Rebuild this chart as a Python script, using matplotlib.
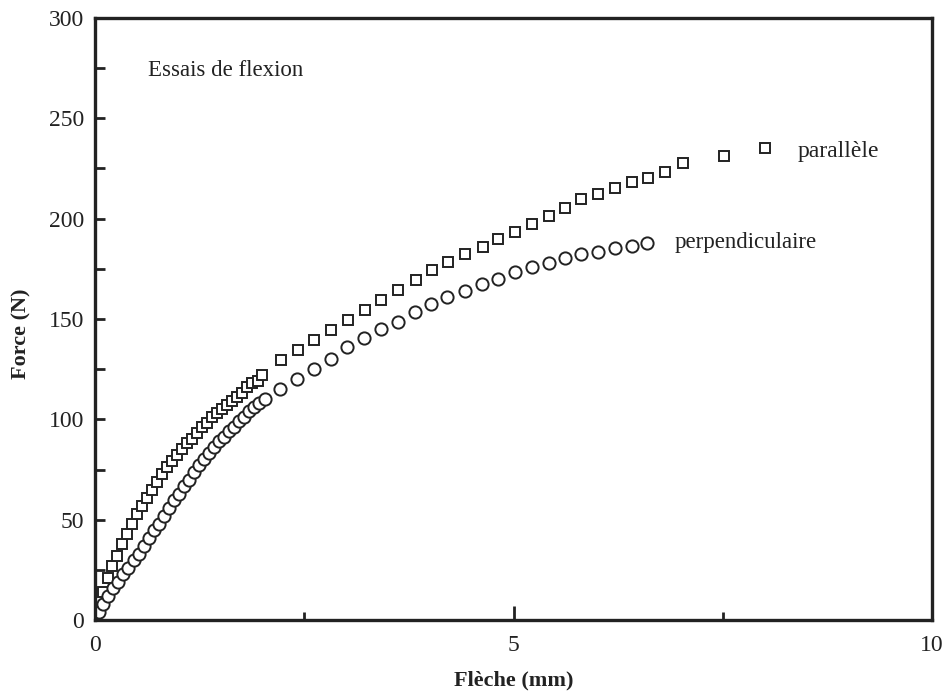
import matplotlib
matplotlib.use("Agg")
import matplotlib.pyplot as plt
from matplotlib.ticker import MultipleLocator

# ---- data ----
par_x = [0.00, 0.05, 0.10, 0.15, 0.20, 0.26, 0.32, 0.38, 0.44, 0.50, 0.56, 0.62,
         0.68, 0.74, 0.80, 0.86, 0.92, 0.98, 1.04, 1.10, 1.16, 1.22, 1.28, 1.34,
         1.40, 1.46, 1.52, 1.58, 1.64, 1.70, 1.76, 1.82, 1.88, 1.95, 2.00,
         2.22, 2.42, 2.62, 2.82, 3.02, 3.22, 3.42, 3.62, 3.83, 4.03, 4.22, 4.42,
         4.63, 4.82, 5.02, 5.22, 5.42, 5.62, 5.81, 6.01, 6.21, 6.41, 6.61, 6.81,
         7.02, 7.51, 8.00]
par_y = [0, 6, 14, 21, 27, 32, 38, 43, 48, 53, 57, 61,
         65, 69, 73, 76, 79, 82, 85, 88, 90, 93, 96, 98,
         101, 103, 105, 107, 109, 111, 113, 116, 118, 119, 122,
         129.5, 134.5, 139.5, 144.5, 149.5, 154.5, 159.4, 164.4, 169.4, 174.4, 178.2, 182.4,
         185.7, 189.7, 193.5, 197.3, 201.4, 205.4, 209.6, 212.3, 215.4, 218.4, 220.4, 223.4,
         227.5, 231.3, 235.0]

perp_x = [0.00, 0.05, 0.10, 0.16, 0.22, 0.28, 0.34, 0.40, 0.46, 0.52, 0.58, 0.64,
          0.70, 0.76, 0.82, 0.88, 0.94, 1.00, 1.06, 1.12, 1.18, 1.24, 1.30, 1.36,
          1.42, 1.48, 1.54, 1.60, 1.66, 1.72, 1.78, 1.84, 1.90, 1.96, 2.03,
          2.21, 2.41, 2.62, 2.82, 3.01, 3.21, 3.42, 3.62, 3.82, 4.02, 4.21, 4.42,
          4.62, 4.81, 5.02, 5.22, 5.42, 5.62, 5.81, 6.01, 6.21, 6.41, 6.60]
perp_y = [0, 4, 8, 12, 16, 19, 23, 26, 30, 33, 37, 41,
          45, 48, 52, 56, 60, 63, 67, 70, 74, 77, 80, 83,
          86, 89, 91, 94, 96, 99, 101, 104, 106, 108, 110,
          115.1, 120.1, 124.9, 130.0, 136.2, 140.4, 145.0, 148.6, 153.3, 157.3, 161.1, 163.9,
          167.3, 169.9, 173.5, 176.0, 178.0, 180.5, 182.4, 183.5, 185.2, 186.5, 187.7]

x_label = "Flèche (mm)"
y_label = "Force (N)"
title_text = "Essais de flexion"
par_label = "parallèle"
perp_label = "perpendiculaire"

# ---- plot ----
plt.rcParams['font.family'] = ['Liberation Serif', 'DejaVu Serif']
ink = '#222222'

fig = plt.figure(figsize=(9.48, 6.98), dpi=100)
ax = fig.add_axes([95/948, 78/698, (932-95)/948, (620-18)/698])

ax.plot(par_x, par_y, linestyle='none', marker='s', markersize=7.8,
        markerfacecolor='white', markeredgecolor=ink, markeredgewidth=1.4)
ax.plot(perp_x, perp_y, linestyle='none', marker='o', markersize=8.8,
        markerfacecolor='white', markeredgecolor=ink, markeredgewidth=1.4)

ax.set_xlim(0, 10)
ax.set_ylim(0, 300)
ax.xaxis.set_major_locator(MultipleLocator(5))
ax.xaxis.set_minor_locator(MultipleLocator(2.5))
ax.yaxis.set_major_locator(MultipleLocator(50))
ax.yaxis.set_minor_locator(MultipleLocator(25))

for s in ax.spines.values():
    s.set_linewidth(2.4)
    s.set_color(ink)

ax.tick_params(axis='both', which='both', direction='in', color=ink,
               labelcolor=ink, labelsize=17, top=False, right=False)
ax.tick_params(axis='x', which='major', length=10, width=2, pad=11)
ax.tick_params(axis='x', which='minor', length=6, width=2)
ax.tick_params(axis='y', which='major', length=7, width=2, pad=8)
ax.tick_params(axis='y', which='minor', length=7, width=2)

ax.set_xlabel(x_label, fontsize=16, fontweight='bold', color=ink)
ax.xaxis.label.set_va('center')
ax.xaxis.set_label_coords(0.5, -0.1)
ax.set_ylabel(y_label, fontsize=16, fontweight='bold', color=ink)
ax.yaxis.label.set_va('center')
ax.yaxis.set_label_coords(-0.088, 0.475)

ax.text(0.63, 274, title_text, fontsize=16.5, color=ink, va='center', ha='left')
ax.text(8.4, 233.5, par_label, fontsize=17, color=ink, va='center', ha='left')
ax.text(6.92, 188, perp_label, fontsize=16.5, color=ink, va='center', ha='left')

fig.savefig('out.png', dpi=100, facecolor='white')
